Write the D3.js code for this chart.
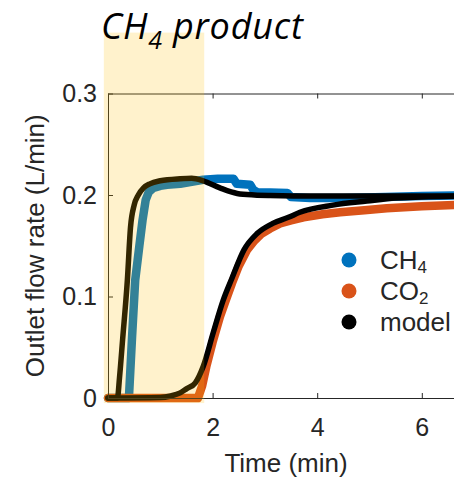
<!DOCTYPE html>
<html>
<head>
<meta charset="utf-8">
<script src="https://cdn.jsdelivr.net/npm/d3@7"></script>
<style>
  html, body { margin: 0; padding: 0; background: #fff; }
  svg { display: block; }
</style>
</head>
<body>
<svg id="chart" width="454" height="482"></svg>
<script>
// ---- data ----
const ch4Time = [0, 0.40, 0.46, 0.52, 0.60, 0.66, 0.72, 0.78, 0.87, 1.0, 1.13, 1.38, 1.6, 1.82, 2.1, 2.4, 2.46, 2.72, 2.78, 2.86, 3.1, 3.43, 3.5, 3.87, 4.5, 5.3, 6.0, 7.0];
const ch4Flow = [0, 0, 0.06, 0.116, 0.15, 0.175, 0.195, 0.203, 0.207, 0.209, 0.210, 0.211, 0.213, 0.215, 0.216, 0.216, 0.211, 0.210, 0.205, 0.2025, 0.2025, 0.202, 0.198, 0.197, 0.197, 0.198, 0.199, 0.200];

const co2Time = [0, 1.72, 1.80, 1.88, 2.0, 2.14, 2.25, 2.37, 2.5, 2.66, 2.8, 2.94, 3.1, 3.29, 3.5, 3.74, 4.1, 4.44, 4.9, 5.33, 6.0, 7.0];
const co2Flow = [0, 0, 0.012, 0.031, 0.055, 0.080, 0.096, 0.113, 0.130, 0.146, 0.155, 0.162, 0.167, 0.172, 0.175, 0.178, 0.181, 0.183, 0.185, 0.187, 0.189, 0.191];

const modelCh4Time = [0, 0.18, 0.22, 0.28, 0.37, 0.43, 0.50, 0.58, 0.68, 0.80, 1.0, 1.38, 1.6, 1.82, 2.14, 2.47, 2.8, 3.1, 4.0, 7.0];
const modelCh4Flow = [0, 0, 0.02, 0.058, 0.116, 0.168, 0.190, 0.200, 0.207, 0.211, 0.214, 0.216, 0.2165, 0.214, 0.207, 0.2015, 0.200, 0.1995, 0.199, 0.199];

const modelCo2Time = [0, 1.0, 1.2, 1.38, 1.5, 1.67, 1.82, 2.01, 2.2, 2.37, 2.6, 2.85, 3.15, 3.45, 3.67, 4.3, 4.95, 5.5, 6.0, 7.0];
const modelCo2Flow = [0, 0.0005, 0.002, 0.005, 0.009, 0.015, 0.031, 0.064, 0.096, 0.118, 0.146, 0.162, 0.172, 0.178, 0.183, 0.190, 0.194, 0.197, 0.198, 0.199];

const shadeTime = [-0.08, 1.84];
const shadeFlow = [-0.005, 0.36];

const xTicks = [0, 2, 4, 6];
const yTicks = [0, 0.1, 0.2, 0.3];
const legendItems = [
  { main: "CH", sub: "4", color: "#0072BD" },
  { main: "CO", sub: "2", color: "#D95319" },
  { main: "model", sub: "", color: "#000000" }
];

// ---- layout ----
const svg = d3.select("#chart");
const x = d3.scaleLinear().domain([0, 7]).range([108, 108 + 7 * 52.3]);
const y = d3.scaleLinear().domain([0, 0.3]).range([398, 93.5]);
const axisColor = "#262626";
const fontAxis = "'Liberation Sans', Arial, sans-serif";

const line = d3.line().x(d => x(d[0])).y(d => y(d[1]));
const smooth = d3.line().x(d => x(d[0])).y(d => y(d[1])).curve(d3.curveMonotoneX);

const zip = (a, b) => a.map((v, i) => [v, b[i]]);

// measured series
svg.append("path").datum(zip(ch4Time, ch4Flow))
  .attr("d", line).attr("fill", "none").attr("stroke", "#0072BD")
  .attr("stroke-width", 8.5).attr("stroke-linejoin", "round").attr("stroke-linecap", "round");
svg.append("path").datum(zip(co2Time, co2Flow))
  .attr("d", line).attr("fill", "none").attr("stroke", "#D95319")
  .attr("stroke-width", 8.5).attr("stroke-linejoin", "round").attr("stroke-linecap", "round");
// model
svg.append("path").datum(zip(modelCh4Time, modelCh4Flow))
  .attr("d", smooth).attr("fill", "none").attr("stroke", "#000")
  .attr("stroke-width", 5.5).attr("stroke-linejoin", "round").attr("stroke-linecap", "round");
svg.append("path").datum(zip(modelCo2Time, modelCo2Flow))
  .attr("d", smooth).attr("fill", "none").attr("stroke", "#000")
  .attr("stroke-width", 5.5).attr("stroke-linejoin", "round").attr("stroke-linecap", "round");

// axes
const fmtY = d => d === 0 ? "0" : d3.format(".1f")(d);
const fmtX = d3.format("d");
const gL = svg.append("g").attr("transform", `translate(${x(0)},0)`)
  .call(d3.axisLeft(y).tickValues(yTicks).tickFormat(fmtY).tickSizeInner(-5).tickSizeOuter(0).tickPadding(11));
const gB = svg.append("g").attr("transform", `translate(0,${y(0)})`)
  .call(d3.axisBottom(x).tickValues(xTicks).tickFormat(fmtX).tickSizeInner(-5).tickSizeOuter(0).tickPadding(20));
const gT = svg.append("g").attr("transform", `translate(0,${y(0.3)})`)
  .call(d3.axisTop(x).tickValues(xTicks).tickFormat("").tickSizeInner(-5).tickSizeOuter(0));
[gL, gB, gT].forEach(g => {
  g.selectAll("path, line").attr("stroke", axisColor).attr("stroke-width", 1);
  g.selectAll("text").attr("fill", axisColor).style("font-family", fontAxis).style("font-size", "25px");
});

// axis labels
svg.append("text").attr("x", 286).attr("y", 472).attr("text-anchor", "middle")
  .attr("fill", axisColor).style("font-family", fontAxis).style("font-size", "26px")
  .text("Time (min)");
svg.append("text").attr("transform", `translate(44,${(y(0) + y(0.3)) / 2}) rotate(-90)`)
  .attr("text-anchor", "middle").attr("fill", axisColor)
  .style("font-family", fontAxis).style("font-size", "26px")
  .text("Outlet flow rate (L/min)");

// legend
const lg = svg.append("g");
legendItems.forEach((d, i) => {
  const cy = 260 + i * 31;
  lg.append("circle").attr("cx", 349).attr("cy", cy).attr("r", 7.5).attr("fill", d.color);
  const t = lg.append("text").attr("x", 380).attr("y", cy + 9).attr("fill", axisColor)
    .style("font-family", fontAxis).style("font-size", "26px");
  t.append("tspan").text(d.main);
  if (d.sub) t.append("tspan").attr("dy", 4).style("font-size", "17px").text(d.sub);
});

// shaded period (drawn semi-transparent on top)
svg.append("rect")
  .attr("x", x(shadeTime[0])).attr("width", x(shadeTime[1]) - x(shadeTime[0]))
  .attr("y", y(shadeFlow[1])).attr("height", y(shadeFlow[0]) - y(shadeFlow[1]))
  .attr("fill", "#FFC000").attr("fill-opacity", 0.2);

// title
const title = svg.append("text").attr("x", 101).attr("y", 39)
  .style("font-family", "'Open Sans', Lato, sans-serif").style("font-style", "italic")
  .style("font-size", "36px").style("letter-spacing", "0.8px").attr("fill", "#000");
title.append("tspan").text("CH");
title.append("tspan").attr("dy", 10).style("font-size", "25px").text("4");
title.append("tspan").attr("dy", -10).text(" product");
</script>
</body>
</html>
